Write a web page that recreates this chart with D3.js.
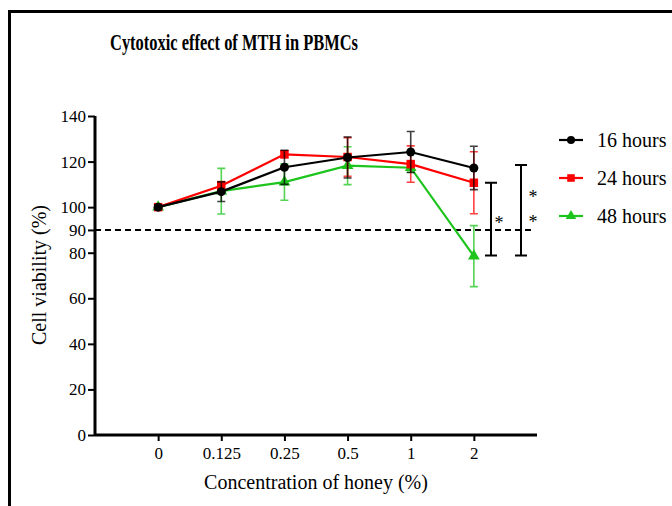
<!DOCTYPE html>
<html>
<head>
<meta charset="utf-8">
<script src="https://cdn.jsdelivr.net/npm/d3@7"></script>
<style>
    body { margin: 0; background: #fff; }
    #chart { width: 672px; height: 506px; }
</style>
</head>
<body>
<div id="chart"></div>
<script>

// Data
const concentrations = ["0", "0.125", "0.25", "0.5", "1", "2"];

const hours16 = [100, 106.8, 117.5, 121.8, 124.2, 117.2];
const err16   = [1, 4.3, 7.5, 9, 9, 9.5];

const hours24 = [100, 109.4, 123.2, 122, 118.9, 110.7];
const err24   = [1, 1.8, 1.5, 8.5, 8, 13.6];

const hours48 = [100, 107, 111, 118.2, 117.3, 78.5];
const err48   = [1, 10, 8, 8.3, 2, 13.4];

const seriesNames = ["16 hours", "24 hours", "48 hours"];
const yTicks = [0, 20, 40, 60, 80, 90, 100, 120, 140];

// significance brackets (top value, bottom value)
const bracketTops    = [110.7, 118.5];
const bracketBottoms = [78.8, 78.8];

const SERIF = '"Liberation Serif", "Times New Roman", Times, serif';

class LineVis {

    constructor(parentElement) {
        this.parentElement = parentElement;
        this.series = [
            {name: seriesNames[0], values: hours16, errors: err16, color: "#000000", symbol: d3.symbolCircle, size: 64},
            {name: seriesNames[1], values: hours24, errors: err24, color: "#ff0000", symbol: d3.symbolSquare, size: 72},
            {name: seriesNames[2], values: hours48, errors: err48, color: "#1cc41c", symbol: d3.symbolTriangle, size: 60}
        ];
        this.initVis();
    }

    initVis() {
        let vis = this;

        vis.width = 672;
        vis.height = 506;

        vis.svg = d3.select("#" + vis.parentElement).append("svg")
                    .attr("width", vis.width)
                    .attr("height", vis.height);

        // outer frame
        vis.svg.append("rect")
            .attr("x", 9.5).attr("y", 11.5)
            .attr("width", 700).attr("height", 520)
            .attr("fill", "none")
            .attr("stroke", "#000")
            .attr("stroke-width", 3);

        // scales
        vis.x = d3.scaleLinear().domain([-1, concentrations.length]).range([95, 537]);
        vis.y = d3.scaleLinear().domain([0, 140]).range([435, 116]);

        // title
        vis.svg.append("text")
            .attr("x", 110).attr("y", 50)
            .attr("font-size", 23)
            .attr("font-weight", "bold")
            .attr("textLength", 248)
            .attr("lengthAdjust", "spacingAndGlyphs")
            .text("Cytotoxic effect of MTH in PBMCs");

        vis.updateVis();
    }

    updateVis() {
        let vis = this;

        // Y axis
        let yAxis = d3.axisLeft(vis.y).tickValues(yTicks).tickSize(7).tickPadding(2);
        let yG = vis.svg.append("g")
            .attr("transform", "translate(95,0)")
            .call(yAxis);
        yG.select(".domain").attr("stroke-width", 3).attr("d", "M0," + vis.y(140) + "V" + vis.y(0));
        yG.selectAll(".tick line").attr("stroke-width", 2);
        yG.selectAll(".tick text").attr("font-size", 17);

        // X axis
        let xAxis = d3.axisBottom(vis.x)
            .tickValues(d3.range(concentrations.length))
            .tickFormat(i => concentrations[i])
            .tickSize(6).tickPadding(6);
        let xG = vis.svg.append("g")
            .attr("transform", "translate(0," + vis.y(0) + ")")
            .call(xAxis);
        xG.select(".domain").attr("stroke-width", 3).attr("d", "M95,0H537");
        xG.selectAll(".tick line").attr("stroke-width", 2);
        xG.selectAll(".tick text").attr("font-size", 17);

        // axis labels
        vis.svg.append("text")
            .attr("x", 316).attr("y", 489)
            .attr("text-anchor", "middle")
            .attr("font-size", 20)
            .text("Concentration of honey (%)");

        vis.svg.append("text")
            .attr("transform", "translate(46," + 275 + ") rotate(-90)")
            .attr("text-anchor", "middle")
            .attr("font-size", 20)
            .text("Cell viability (%)");

        // 90% threshold line
        vis.svg.append("line")
            .attr("x1", 95).attr("x2", 534)
            .attr("y1", vis.y(90)).attr("y2", vis.y(90))
            .attr("stroke", "#000")
            .attr("stroke-width", 2)
            .attr("stroke-dasharray", "6,4");

        // series: green first, black on top
        let line = d3.line()
            .x((d, i) => vis.x(i))
            .y(d => vis.y(d));

        let drawOrder = [vis.series[2], vis.series[1], vis.series[0]];

        drawOrder.forEach(s => {
            let g = vis.svg.append("g");

            // error bars
            s.values.forEach((v, i) => {
                let cx = vis.x(i);
                let top = vis.y(v + s.errors[i]);
                let bot = vis.y(v - s.errors[i]);
                g.append("path")
                    .attr("d", `M${cx},${top}V${bot}M${cx - 4},${top}H${cx + 4}M${cx - 4},${bot}H${cx + 4}`)
                    .attr("stroke", s.color)
                    .attr("stroke-opacity", 0.75)
                    .attr("stroke-width", 1.6)
                    .attr("fill", "none");
            });

            g.append("path")
                .datum(s.values)
                .attr("d", line)
                .attr("fill", "none")
                .attr("stroke", s.color)
                .attr("stroke-width", 2.2);

            g.selectAll(".marker")
                .data(s.values)
                .enter().append("path")
                .attr("class", "marker")
                .attr("transform", (d, i) => "translate(" + vis.x(i) + "," + vis.y(d) + ")")
                .attr("d", d3.symbol().type(s.symbol).size(s.size))
                .attr("fill", s.color);
        });

        // significance brackets
        let bracketX = [491, 521];
        bracketX.forEach((bx, i) => {
            let top = vis.y(bracketTops[i]);
            let bot = vis.y(bracketBottoms[i]);
            vis.svg.append("path")
                .attr("d", `M${bx},${top}V${bot}M${bx - 6},${top}H${bx + 6}M${bx - 6},${bot}H${bx + 6}`)
                .attr("stroke", "#000")
                .attr("stroke-width", 2)
                .attr("fill", "none");
        });

        let stars = [[499, 229], [533, 203], [533, 228]];
        stars.forEach(p => {
            vis.svg.append("text")
                .attr("x", p[0]).attr("y", p[1])
                .attr("text-anchor", "middle")
                .attr("font-size", 18)
                .text("*");
        });

        // legend
        let legend = vis.svg.append("g");
        vis.series.forEach((s, i) => {
            let ly = 140 + i * 38;
            legend.append("line")
                .attr("x1", 559).attr("x2", 583)
                .attr("y1", ly).attr("y2", ly)
                .attr("stroke", s.color)
                .attr("stroke-width", 2.2);
            legend.append("path")
                .attr("transform", "translate(571," + ly + ")")
                .attr("d", d3.symbol().type(s.symbol).size(s.size * 0.8))
                .attr("fill", s.color);
            legend.append("text")
                .attr("x", 597).attr("y", ly + 7)
                .attr("font-size", 20)
                .text(s.name);
        });

        // every label in a Times-like serif
        vis.svg.selectAll("text")
            .style("font-family", SERIF)
            .style("fill", "#000");
    }
}

new LineVis("chart");

</script>
</body>
</html>
